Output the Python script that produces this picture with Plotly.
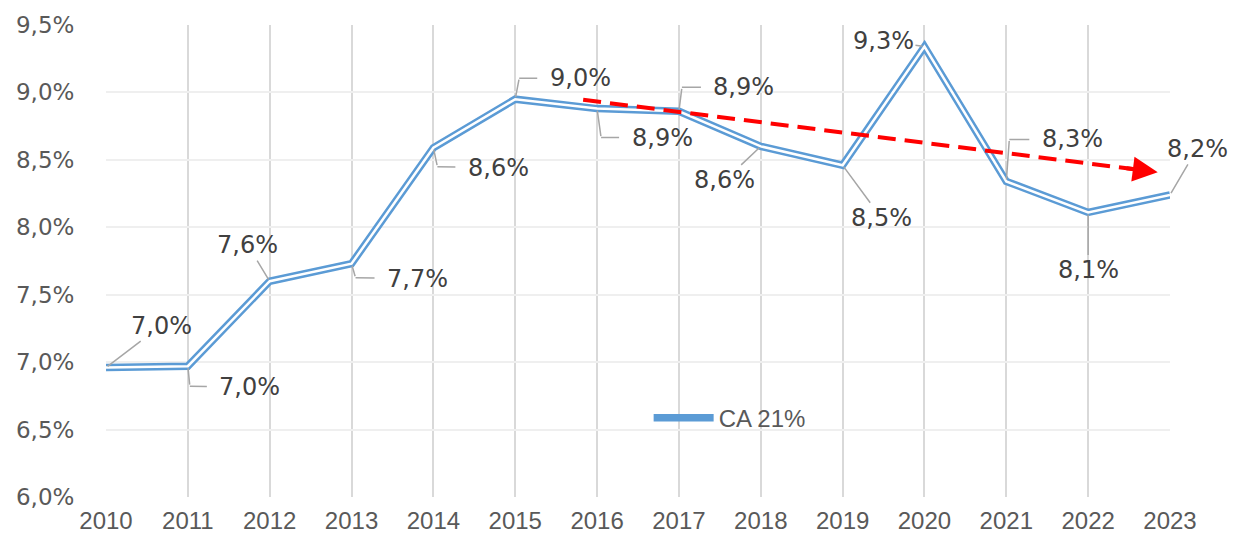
import plotly.graph_objects as go

years = [2010, 2011, 2012, 2013, 2014, 2015, 2016, 2017, 2018, 2019, 2020, 2021, 2022, 2023]
ca21 = [6.96, 6.97, 7.60, 7.73, 8.59, 8.95, 8.88, 8.86, 8.60, 8.46, 9.34, 8.34, 8.11, 8.24]
labels = ["7,0%", "7,0%", "7,6%", "7,7%", "8,6%", "9,0%", "8,9%", "8,9%", "8,6%", "8,5%", "9,3%", "8,3%", "8,1%", "8,2%"]
# leader-line elbow offsets (pixels from the point) and label offsets (pixels from the elbow)
elbow_dx = [0, 2, 0, 4, 4, 4, 4, 3, 0, 0, 0, 3, 0, 0]
elbow_dy = [0, 20, 0, 14, 19, -21, 29, -24, 0, 0, 0, -42, 0, 0]
label_dx = [55, 60, -22, 62, 61, 61, 61, 62, -36, 39, -41, 63, 0, 27]
label_dy = [-42, 1, -36, 1, 1, 0, 0, 0, 34, 53, -6, 0, 58, -46]
trend_x = [2015.83, 2022.70]
trend_y = [8.945, 8.42]
arrow_tip = (2022.85, 8.408)
yticks = [6.0, 6.5, 7.0, 7.5, 8.0, 8.5, 9.0, 9.5]
ytick_text = ["6,0%", "6,5%", "7,0%", "7,5%", "8,0%", "8,5%", "9,0%", "9,5%"]

BLUE = "#5b9bd5"
LEADER = "#a6a6a6"
fig = go.Figure()
fig.add_trace(go.Scatter(x=years, y=ca21, mode="lines", name="CA 21%",
                         line=dict(color=BLUE, width=7.5), hoverinfo="skip"))
fig.add_trace(go.Scatter(x=years, y=ca21, mode="lines", showlegend=False,
                         line=dict(color="white", width=2.5), hoverinfo="skip"))
fig.add_trace(go.Scatter(x=trend_x, y=trend_y, mode="lines", showlegend=False,
                         line=dict(color="#ff0000", width=4, dash="18px,9px"), hoverinfo="skip"))

fig.add_annotation(x=arrow_tip[0], y=arrow_tip[1], ax=trend_x[1] - 0.25, ay=trend_y[1] + 0.019,
                   axref="x", ayref="y", xref="x", yref="y", text="", showarrow=True,
                   arrowhead=2, arrowsize=1.25, arrowwidth=4, arrowcolor="#ff0000")

for x, y, t, ex, ey, dx, dy in zip(years, ca21, labels, elbow_dx, elbow_dy, label_dx, label_dy):
    elbow = bool(ex or ey)
    if elbow:
        fig.add_annotation(x=x, y=y, text="", showarrow=True, ax=ex, ay=ey,
                           arrowhead=0, arrowwidth=1.5, arrowcolor=LEADER, standoff=2)
    fig.add_annotation(x=x, y=y, xshift=ex, yshift=-ey, text=t, showarrow=True, ax=dx, ay=dy,
                       arrowhead=0, arrowwidth=1.5, arrowcolor=LEADER,
                       font=dict(family="DejaVu Sans", size=24, color="#404040"),
                       standoff=0 if elbow else 2, startstandoff=11 if elbow else 0)

fig.update_layout(
    width=1228, height=529,
    margin=dict(l=98, r=66, t=17, b=40),
    paper_bgcolor="white", plot_bgcolor="white",
    showlegend=True,
    legend=dict(x=0.51, y=0.167, xanchor="left", yanchor="middle",
                font=dict(family="Liberation Sans", size=24, color="#595959"),
                bgcolor="rgba(0,0,0,0)", itemwidth=60),
    xaxis=dict(range=[2010, 2023], tickvals=years, ticktext=[str(y) for y in years],
               showgrid=True, gridcolor="#d9d9d9", gridwidth=2,
               zeroline=False, showline=False, automargin=False,
               ticks="outside", ticklen=2, tickcolor="rgba(0,0,0,0)",
               tickfont=dict(family="Liberation Sans", size=24, color="#595959")),
    yaxis=dict(range=[6.0, 9.5], tickvals=yticks, ticktext=ytick_text,
               showgrid=True, gridcolor="#efefef", gridwidth=2,
               zeroline=False, showline=False, automargin=False,
               ticks="outside", ticklen=26, tickcolor="rgba(0,0,0,0)",
               tickfont=dict(family="DejaVu Sans", size=23, color="#595959")),
)

fig.write_html("out.html")
